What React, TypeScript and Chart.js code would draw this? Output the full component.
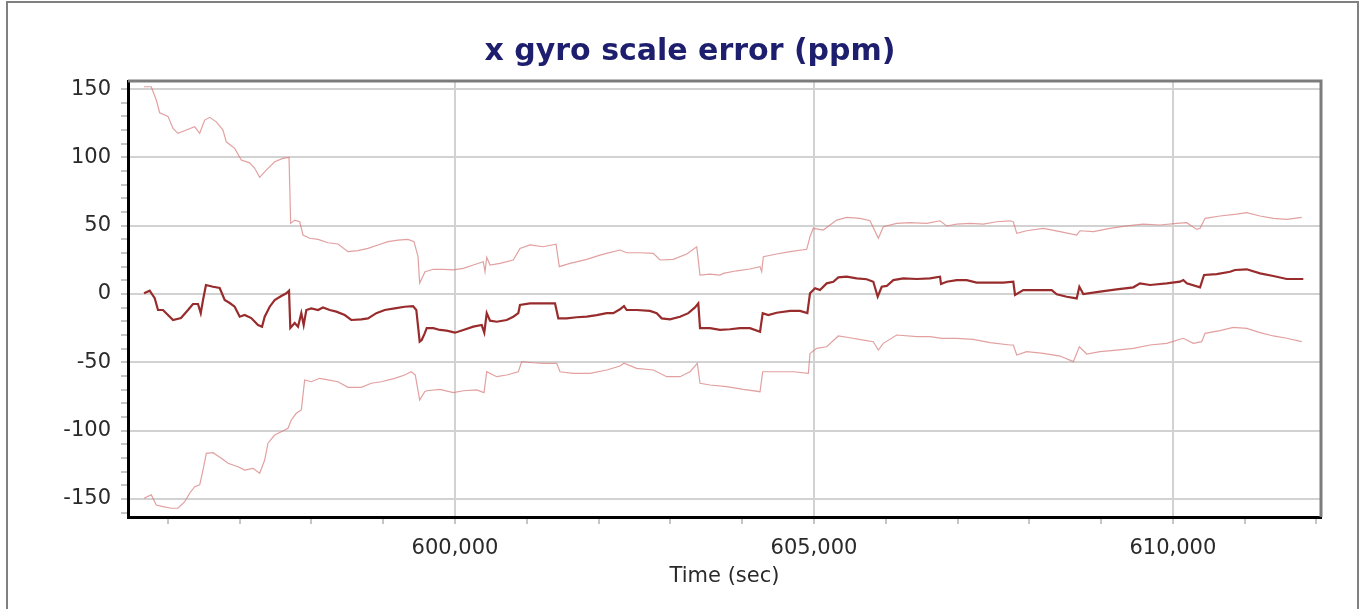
import React, { useEffect, useRef } from "react";
import { Chart, registerables } from "chart.js";

Chart.register(...registerables);

// ---- data ----
const centerTime = [595668,595747,595817,595863,595932,596002,596072,596183,596281,596350,596420,596458,596490,596531,596629,596722,596792,596862,596931,597001,597070,597162,597256,597312,597349,597419,597488,597580,597650,597688,597706,597767,597813,597859,597892,597929,597998,598092,598161,598255,598347,598464,598555,598695,598788,598904,599021,599160,599299,599415,599461,599508,599536,599578,599606,599698,599791,599884,600000,600116,600255,600372,600408,600442,600488,600581,600720,600812,600882,600905,601045,601184,601300,601393,601439,601556,601695,601835,601974,602113,602205,602298,602354,602392,602531,602716,602810,602879,602995,603134,603250,603343,603389,603413,603552,603691,603831,603970,604109,604249,604286,604364,604481,604667,604806,604908,604945,605015,605084,605178,605270,605339,605456,605596,605735,605827,605888,605944,606014,606106,606245,606432,606617,606756,606770,606849,606989,607128,607267,607453,607638,607777,607801,607916,608103,608312,608382,608521,608660,608697,608752,608985,609217,609449,609542,609681,609914,610099,610145,610193,610378,610434,610610,610796,610865,611028,611214,611399,611586,611817];
const centerValue = [0.5,2.4,-3,-11.7,-11.7,-15.4,-19,-17.6,-11.7,-7.3,-7.3,-14,-4.4,6.6,5.3,4.4,-4.4,-6.6,-9.3,-16.6,-15.4,-17.6,-22.7,-23.9,-16.6,-9.3,-4.4,-1.5,0.5,2.4,-24.9,-21.2,-23.9,-14,-22.7,-11.7,-10.5,-11.7,-9.8,-11.7,-12.9,-15.4,-19,-18.5,-17.8,-14,-11.7,-10.5,-9.3,-8.8,-11.7,-34.9,-33.7,-28.8,-25,-25,-26.3,-26.8,-28.3,-26.3,-23.9,-22.7,-28.3,-14,-19.5,-20.3,-19,-16.6,-14,-8,-6.8,-6.8,-6.8,-6.8,-17.8,-17.8,-17,-16.6,-15.4,-14,-14,-11.2,-8.8,-11.7,-11.7,-12.4,-14,-17.8,-18.5,-16.6,-14,-9.8,-6.8,-25,-25,-26.3,-25.8,-25,-25,-27.6,-14,-15.4,-13.7,-12.4,-12.4,-14,0.5,4.2,2.9,7.8,9,12.2,12.7,11.5,10.8,9,-2,5.3,5.9,10.2,11.5,11,11.5,12.7,7.3,9,10.2,10.2,8.3,8.3,8.3,9,-0.7,2.9,2.9,2.9,-0.2,-2,-3.2,5.3,0,1.7,3.4,4.9,7.8,6.6,7.8,9,10.2,7.8,4.9,13.9,14.6,16.3,17.6,18.1,15.1,13.2,11,11];

const upperTime = [595668,595769,595839,595886,596002,596072,596141,596257,596374,596444,596513,596583,596675,596768,596814,596931,597023,597140,597210,597279,597371,597488,597604,597688,597711,597767,597837,597883,597976,598092,598231,598370,598509,598649,598788,598927,599067,599206,599345,599429,599485,599508,599582,599698,599837,599976,600116,600255,600394,600418,600442,600488,600627,600812,600905,601045,601230,601407,601453,601602,601835,602020,602113,602298,602392,602577,602762,602856,603041,603228,603367,603413,603552,603691,603737,603924,604109,604249,604272,604295,604481,604667,604899,604945,604991,605130,605317,605456,605642,605781,605897,605966,606153,606338,606571,606756,606849,606989,607174,607359,607546,607731,607777,607825,607964,608195,608428,608660,608706,608892,609124,609357,609588,609821,610053,610193,610332,610378,610448,610656,610889,611028,611214,611399,611586,611795];
const upperValue = [151.7,151.7,142,132.7,130,121.2,117.6,120,122.4,117.6,127.3,129.3,126,120,111.4,106.6,98,96,92,85.4,90.7,96.8,99.3,100,51.7,54.1,52.9,43.2,40.8,40,37.5,36.6,31,31.7,33.4,35.9,38.3,39.5,40,38.3,27.3,8,16.3,18.1,18.1,17.6,18.8,21.2,23.6,16.3,26.9,21.2,22.4,24.9,33.4,35.9,34.6,36.4,20,22.4,25.4,28.5,29.8,32.2,30.2,30.2,29.8,24.9,25.4,29.3,34.6,13.9,14.6,13.9,15.1,17,18.3,20,16.3,27.3,29.3,31,32.7,41.9,48.1,46.8,54.1,56.1,55.4,53.6,40.8,49.2,51.7,52.2,51.7,53.6,49.8,51.2,51.7,51.2,52.9,53.6,52.9,44.4,46.3,48.1,45.6,43.2,46.3,45.6,48.1,49.8,51.2,50.5,51.7,52.2,47.3,48.1,55.4,57.1,58.5,59.5,57.1,55.4,54.6,56.1];

const lowerTime = [595668,595769,595839,595932,596048,596141,596235,596304,596374,596444,596490,596536,596629,596745,596838,596977,597070,597186,597279,597349,597395,597488,597580,597674,597720,597789,597859,597906,597998,598115,598231,598370,598509,598695,598834,598973,599160,599299,599391,599447,599508,599578,599606,599791,599976,600116,600302,600404,600442,600581,600720,600882,600929,601091,601230,601417,601463,601648,601881,602113,602298,602354,602531,602762,602949,603134,603274,603375,603413,603552,603785,604016,604249,604286,604481,604713,604922,604945,605038,605178,605339,605502,605688,605827,605897,605966,606153,606432,606617,606780,606989,607220,607453,607731,607777,607825,607964,608195,608428,608613,608697,608800,608985,609217,609449,609681,609914,610145,610285,610401,610448,610656,610842,611028,611214,611399,611586,611795];
const lowerValue = [-149.5,-147,-154.4,-155.6,-156.8,-156.8,-152,-145.8,-141,-139.7,-128.8,-116.6,-116.1,-120.2,-123.9,-126.4,-128.8,-127.6,-131.2,-121.5,-109.2,-103.2,-100.8,-98.3,-92.2,-87.3,-84.9,-62.9,-64.2,-61.7,-62.9,-64.2,-68.3,-68.3,-65.3,-64.2,-61.7,-59.3,-56.9,-59.3,-77.6,-71.5,-70.8,-69.8,-72.2,-70.8,-70.2,-72.2,-56.9,-60.5,-59.3,-56.9,-49.5,-50.3,-50.7,-50.7,-56.9,-58.1,-58.1,-55.6,-52.7,-50.7,-54.4,-55.6,-60.5,-60.5,-56.9,-50.7,-65.3,-66.6,-67.8,-69.8,-71.5,-56.9,-56.9,-56.9,-58.1,-43.5,-39.8,-38.6,-30.7,-32,-33.7,-34.9,-41,-36.1,-30,-31.2,-31.2,-32.4,-32.4,-33.2,-35.6,-37.3,-37.3,-44.6,-42.2,-43.4,-45.4,-49.5,-38.6,-43.9,-42.2,-41,-39.8,-37.3,-36.1,-32.4,-36.1,-34.9,-28.8,-26.8,-24.4,-25.1,-28.3,-30.7,-32.4,-34.9];

// axis ranges and tick steps
const X_MIN = 595445;
const X_MAX = 612063;
const X_MINOR_STEP = 1000;
const X_LABEL_STEP = 5000;
const Y_MIN = -163.2;
const Y_MAX = 155.9;
const Y_MINOR_STEP = 10;
const Y_LABEL_STEP = 50;

const TITLE = "x gyro scale error (ppm)";
const X_TITLE = "Time (sec)";

const FONT = "'DejaVu Sans', Verdana, sans-serif";

function zip(t: number[], v: number[]) {
  const n = Math.min(t.length, v.length);
  const out: { x: number; y: number }[] = [];
  for (let i = 0; i < n; i++) out.push({ x: t[i], y: v[i] });
  return out;
}

function stepTicks(min: number, max: number, step: number) {
  const out: { value: number }[] = [];
  for (let v = Math.ceil(min / step) * step; v <= max; v += step) out.push({ value: v });
  return out;
}

const isMultiple = (v: number, step: number) => Math.abs(v % step) < 1e-6;

const framePlugin = {
  id: "frame",
  beforeDatasetsDraw(chart: any) {
    const { ctx, chartArea } = chart;
    const { left, right, top, bottom } = chartArea;
    ctx.save();
    ctx.strokeStyle = "#7c7c7c";
    ctx.lineWidth = 3;
    ctx.beginPath();
    ctx.moveTo(left, top);
    ctx.lineTo(right, top);
    ctx.lineTo(right, bottom);
    ctx.stroke();
    ctx.restore();
  },
  afterDraw(chart: any) {
    const { ctx } = chart;
    ctx.save();
    ctx.fillStyle = "#1e1e6e";
    ctx.font = `bold 30px ${FONT}`;
    ctx.textAlign = "center";
    ctx.textBaseline = "middle";
    ctx.fillText(TITLE, 690, 52);
    ctx.restore();
  },
};

export default function App() {
  const ref = useRef<HTMLCanvasElement | null>(null);

  useEffect(() => {
    if (!ref.current) return;
    const transparent = "rgba(0,0,0,0)";
    const chart = new Chart(ref.current, {
      type: "line",
      data: {
        datasets: [
          {
            label: "estimate",
            data: zip(centerTime, centerValue),
            borderColor: "#982b2b",
            borderWidth: 2.2,
            pointRadius: 0,
            tension: 0,
          },
          {
            label: "upper",
            data: zip(upperTime, upperValue),
            borderColor: "rgba(214,120,120,0.7)",
            borderWidth: 1.2,
            pointRadius: 0,
            tension: 0,
          },
          {
            label: "lower",
            data: zip(lowerTime, lowerValue),
            borderColor: "rgba(214,120,120,0.7)",
            borderWidth: 1.2,
            pointRadius: 0,
            tension: 0,
          },
        ],
      },
      options: {
        animation: false,
        responsive: false,
        devicePixelRatio: 1,
        events: [],
        layout: { padding: { top: 81, right: 47, left: 0, bottom: 0 } },
        plugins: {
          legend: { display: false },
          tooltip: { enabled: false },
          title: { display: false },
        },
        scales: {
          x: {
            type: "linear",
            min: X_MIN,
            max: X_MAX,
            afterBuildTicks: (s: any) => {
              s.ticks = stepTicks(X_MIN, X_MAX, X_MINOR_STEP);
            },
            afterFit: (s: any) => {
              s.height = 92;
            },
            border: { display: true, color: "#000000", width: 3 },
            grid: {
              color: (c: any) =>
                c.tick && isMultiple(c.tick.value, X_LABEL_STEP) ? "#d2d2d2" : transparent,
              lineWidth: 2,
              tickColor: "#8c8c8c",
              tickLength: 7,
              tickWidth: 1,
            },
            ticks: {
              autoSkip: false,
              maxRotation: 0,
              minRotation: 0,
              padding: 12,
              color: "#2a2a2a",
              font: { family: FONT, size: 21 },
              callback: (v: any) =>
                isMultiple(Number(v), X_LABEL_STEP) ? Number(v).toLocaleString("en-US") : "",
            },
            title: {
              display: true,
              text: X_TITLE,
              color: "#2a2a2a",
              font: { family: FONT, size: 21 },
              padding: { top: 0, bottom: 20 },
            },
          },
          y: {
            type: "linear",
            min: Y_MIN,
            max: Y_MAX,
            afterBuildTicks: (s: any) => {
              s.ticks = stepTicks(Y_MIN, Y_MAX, Y_MINOR_STEP);
            },
            afterFit: (s: any) => {
              s.width = 128;
            },
            border: { display: true, color: "#000000", width: 3 },
            grid: {
              color: (c: any) =>
                c.tick && isMultiple(c.tick.value, Y_LABEL_STEP) ? "#d2d2d2" : transparent,
              lineWidth: 2,
              tickColor: "#8c8c8c",
              tickLength: 7,
              tickWidth: 1,
            },
            ticks: {
              autoSkip: false,
              padding: 10,
              color: "#2a2a2a",
              font: { family: FONT, size: 21 },
              callback: (v: any) =>
                isMultiple(Number(v), Y_LABEL_STEP) ? String(Number(v)) : "",
            },
          },
        },
      },
      plugins: [framePlugin],
    } as any);
    return () => chart.destroy();
  }, []);

  return (
    <div
      style={{
        position: "fixed",
        left: 0,
        top: 0,
        width: 1368,
        height: 609,
        overflow: "hidden",
        background: "#ffffff",
      }}
    >
      <div
        style={{
          position: "absolute",
          left: 6,
          top: 1,
          width: 1353,
          height: 640,
          boxSizing: "border-box",
          border: "2px solid #808080",
        }}
      />
      <canvas
        ref={ref}
        width={1368}
        height={609}
        style={{ position: "absolute", left: 0, top: 0, width: 1368, height: 609 }}
      />
    </div>
  );
}
